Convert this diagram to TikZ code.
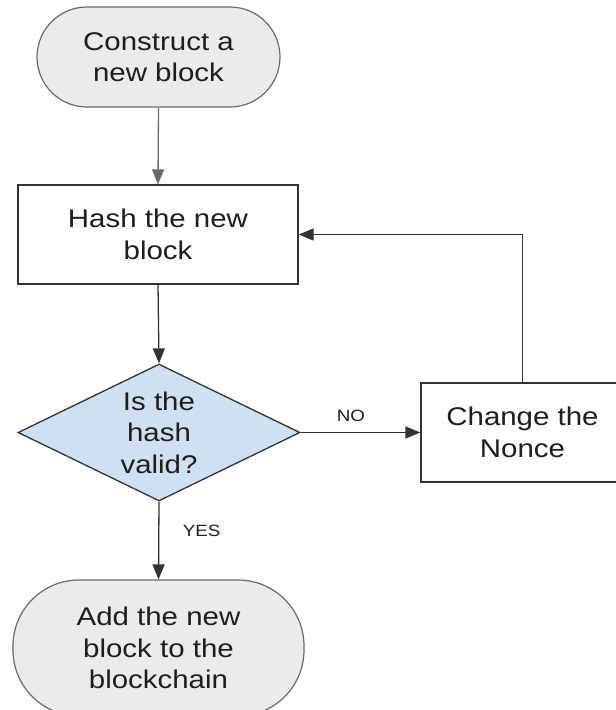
\documentclass[tikz,border=0pt]{standalone}
\usepackage{fontspec}
\setmainfont{Liberation Sans}[FakeStretch=1.15]
\usetikzlibrary{shapes.geometric,arrows.meta,positioning}

\definecolor{termfill}{HTML}{EBEBEB}
\definecolor{termline}{HTML}{6A6A6A}
\definecolor{boxline}{HTML}{333333}
\definecolor{decfill}{HTML}{CFE0F2}
\definecolor{inktext}{HTML}{1E1E1E}

\tikzset{
  every node/.style={text=inktext},
  bigtext/.style={font=\fontsize{25.6}{31.5}\selectfont, align=center},
  smalltext/.style={font=\fontsize{16.3}{19}\selectfont},
  terminal/.style={bigtext, draw=termline, fill=termfill, line width=1.2pt,
    rectangle, inner sep=0pt},
  process/.style={bigtext, draw=boxline, fill=white, line width=1.3pt,
    rectangle, inner sep=0pt},
  decision/.style={bigtext, draw=boxline, fill=decfill, line width=1.3pt,
    diamond, aspect=2.06, inner sep=0pt},
  flow/.style={draw=boxline, line width=1.3pt,
    -{Triangle[length=15pt,width=12pt]}},
  flowgray/.style={flow, draw=termline, -{Triangle[length=15pt,width=12pt,fill=termline]}}
}

\begin{document}
\begin{tikzpicture}[x=1pt,y=-1pt]
  \useasboundingbox (0,0) rectangle (616,710);

  % start / end terminals
  \node[terminal, minimum width=243pt, minimum height=100pt, rounded corners=50pt]
    (start) at (158.5,57) {Construct a\\new block};
  \node[terminal, minimum width=291pt, minimum height=136pt, rounded corners=66pt]
    (finish) at (158.5,648) {Add the new\\block to the\\blockchain};

  % processing steps
  \node[process, minimum width=280pt, minimum height=99pt]
    (hash) at (158,234.5) {Hash the new\\block};
  \node[process, minimum width=203pt, minimum height=99pt]
    (nonce) at (522.5,432.5) {Change the\\Nonce};

  % validity test
  \node[decision, minimum width=282pt, minimum height=137pt]
    (check) at (159,432.5) {Is the\\hash\\valid?};

  % connectors
  \draw[flowgray] (start.south) -- (hash.north);
  \draw[flow] (hash.south) -- (check.north);
  \draw[flow] (check.east) -- node[smalltext, pos=0.42, above=7pt] {NO} (nonce.west);
  \draw[flow] (nonce.north) |- (hash.east);
  \draw[flow] (check.south) -- node[smalltext, pos=0.38, right=20pt] {YES} (finish.north);
\end{tikzpicture}
\end{document}
